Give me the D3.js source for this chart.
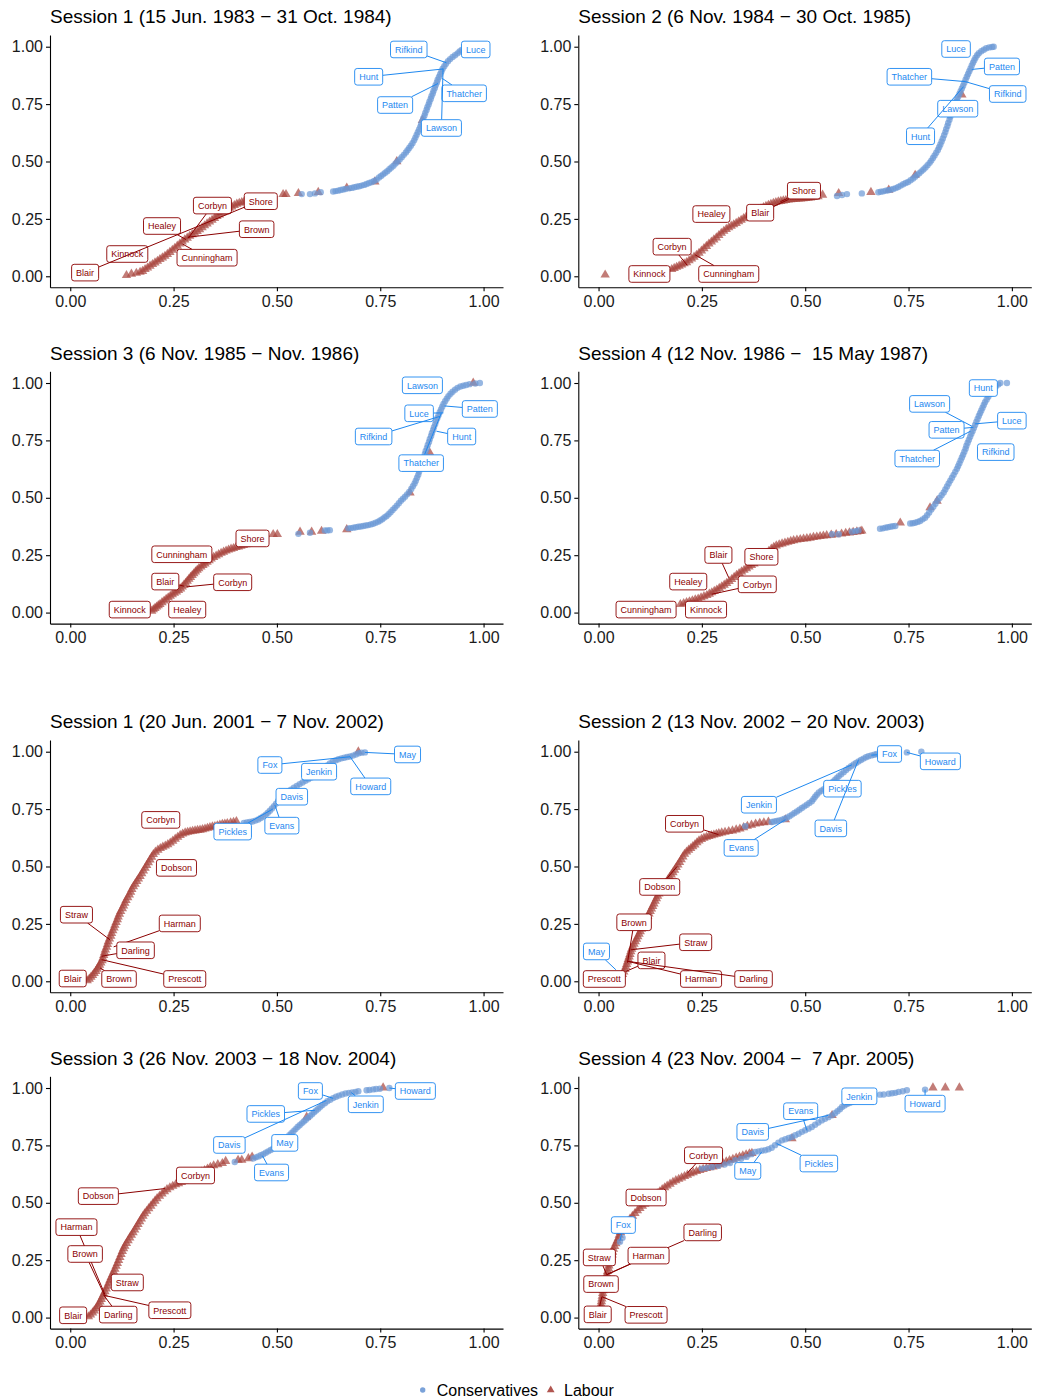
<!DOCTYPE html>
<html lang="en">
<head>
<meta charset="utf-8">
<title>Party ideal points by session</title>
<script src="https://cdn.jsdelivr.net/npm/d3@7"></script>
<style>
  body { margin: 0; background: #fff; }
  svg text { font-family: "Liberation Sans", Arial, Helvetica, sans-serif; }
</style>
</head>
<body>
<svg id="chart" width="1038" height="1399"></svg>
<script>
// ---- data: [x, y] of each plotted MP, per session and party ----
var tickVals = [0, 0.25, 0.5, 0.75, 1];

var titles = [
  "Session 1 (15 Jun. 1983 \u2212 31 Oct. 1984)",
  "Session 2 (6 Nov. 1984 \u2212 30 Oct. 1985)",
  "Session 3 (6 Nov. 1985 \u2212 Nov. 1986)",
  "Session 4 (12 Nov. 1986 \u2212 \u00a015 May 1987)",
  "Session 1 (20 Jun. 2001 \u2212 7 Nov. 2002)",
  "Session 2 (13 Nov. 2002 \u2212 20 Nov. 2003)",
  "Session 3 (26 Nov. 2003 \u2212 18 Nov. 2004)",
  "Session 4 (23 Nov. 2004 \u2212 \u00a07 Apr. 2005)"
];

var lab83s1 = [[0.136,0.004],[0.148,0.010],[0.160,0.014],[0.169,0.018],[0.175,0.022],[0.181,0.030],[0.187,0.037],[0.193,0.045],[0.199,0.052],[0.205,0.059],[0.211,0.066],[0.217,0.074],[0.223,0.081],[0.229,0.088],[0.235,0.096],[0.241,0.105],[0.247,0.114],[0.253,0.123],[0.259,0.132],[0.265,0.141],[0.271,0.150],[0.277,0.159],[0.283,0.167],[0.289,0.175],[0.295,0.182],[0.301,0.188],[0.307,0.196],[0.313,0.204],[0.319,0.212],[0.325,0.221],[0.331,0.229],[0.337,0.237],[0.343,0.245],[0.349,0.253],[0.355,0.261],[0.361,0.268],[0.367,0.276],[0.373,0.283],[0.379,0.290],[0.385,0.297],[0.391,0.303],[0.397,0.309],[0.403,0.315],[0.409,0.319],[0.415,0.322],[0.421,0.326],[0.515,0.357],[0.522,0.357],[0.552,0.361],[0.600,0.366],[0.669,0.385],[0.737,0.412],[0.790,0.500],[0.852,0.680]];
var con83s1 = [[0.560,0.358],[0.580,0.358],[0.592,0.361],[0.606,0.366],[0.636,0.369],[0.642,0.371],[0.648,0.373],[0.654,0.376],[0.660,0.378],[0.666,0.380],[0.675,0.383],[0.681,0.385],[0.687,0.388],[0.693,0.390],[0.699,0.392],[0.705,0.395],[0.711,0.398],[0.717,0.402],[0.723,0.406],[0.729,0.410],[0.735,0.415],[0.741,0.421],[0.747,0.430],[0.752,0.437],[0.757,0.444],[0.762,0.451],[0.767,0.458],[0.772,0.466],[0.777,0.474],[0.782,0.482],[0.787,0.491],[0.792,0.500],[0.797,0.509],[0.802,0.519],[0.807,0.529],[0.812,0.539],[0.816,0.549],[0.820,0.559],[0.824,0.569],[0.828,0.580],[0.832,0.592],[0.835,0.604],[0.838,0.616],[0.841,0.628],[0.844,0.640],[0.847,0.652],[0.849,0.664],[0.852,0.676],[0.854,0.688],[0.857,0.700],[0.859,0.712],[0.862,0.724],[0.864,0.736],[0.867,0.748],[0.869,0.760],[0.872,0.772],[0.874,0.784],[0.877,0.796],[0.879,0.808],[0.882,0.820],[0.884,0.832],[0.887,0.844],[0.889,0.856],[0.892,0.868],[0.895,0.880],[0.898,0.892],[0.901,0.904],[0.905,0.915],[0.909,0.926],[0.914,0.937],[0.919,0.946],[0.925,0.955],[0.931,0.963],[0.937,0.971],[0.942,0.979],[0.947,0.986]];
var names83s1 = [["Rifkind","C",0.910,0.930,0.819,0.988],["Luce","C",0.947,0.986,0.981,0.988],["Hunt","C",0.902,0.903,0.722,0.869],["Thatcher","C",0.900,0.862,0.953,0.797],["Patten","C",0.890,0.840,0.786,0.746],["Lawson","C",0.902,0.905,0.898,0.646],["Corbyn","L",0.285,0.165,0.344,0.308],["Shore","L",0.415,0.322,0.461,0.327],["Healey","L",0.280,0.160,0.222,0.219],["Kinnock","L",0.195,0.060,0.138,0.097],["Brown","L",0.284,0.170,0.451,0.205],["Cunningham","L",0.272,0.140,0.331,0.081],["Blair","L",0.423,0.302,0.036,0.016]];

var lab83s2 = [[0.016,0.006],[0.177,0.030],[0.183,0.035],[0.189,0.040],[0.195,0.045],[0.201,0.050],[0.207,0.055],[0.213,0.060],[0.219,0.068],[0.225,0.076],[0.231,0.084],[0.237,0.092],[0.243,0.101],[0.249,0.111],[0.255,0.121],[0.261,0.131],[0.267,0.141],[0.273,0.150],[0.279,0.159],[0.285,0.168],[0.291,0.178],[0.297,0.188],[0.303,0.197],[0.309,0.205],[0.315,0.212],[0.321,0.219],[0.327,0.225],[0.333,0.231],[0.339,0.238],[0.345,0.245],[0.351,0.252],[0.357,0.259],[0.363,0.266],[0.369,0.272],[0.375,0.278],[0.381,0.284],[0.387,0.290],[0.393,0.295],[0.399,0.300],[0.405,0.305],[0.411,0.310],[0.417,0.314],[0.423,0.318],[0.429,0.322],[0.435,0.325],[0.441,0.327],[0.447,0.329],[0.453,0.331],[0.459,0.333],[0.465,0.334],[0.471,0.335],[0.477,0.336],[0.483,0.337],[0.489,0.338],[0.495,0.339],[0.501,0.340],[0.507,0.341],[0.513,0.342],[0.519,0.344],[0.525,0.345],[0.531,0.347],[0.542,0.354],[0.581,0.361],[0.659,0.366],[0.702,0.376],[0.766,0.441],[0.879,0.790]];
var con83s2 = [[0.577,0.350],[0.589,0.354],[0.601,0.358],[0.637,0.361],[0.677,0.366],[0.683,0.368],[0.689,0.370],[0.695,0.373],[0.701,0.375],[0.707,0.377],[0.713,0.380],[0.719,0.384],[0.725,0.389],[0.731,0.395],[0.737,0.401],[0.743,0.406],[0.749,0.411],[0.755,0.418],[0.761,0.426],[0.766,0.434],[0.771,0.442],[0.776,0.449],[0.781,0.457],[0.786,0.465],[0.791,0.474],[0.796,0.484],[0.801,0.494],[0.805,0.504],[0.809,0.515],[0.813,0.526],[0.817,0.538],[0.821,0.550],[0.824,0.562],[0.827,0.574],[0.830,0.587],[0.833,0.600],[0.836,0.614],[0.839,0.628],[0.841,0.641],[0.844,0.655],[0.846,0.668],[0.849,0.682],[0.851,0.695],[0.854,0.708],[0.856,0.721],[0.859,0.734],[0.861,0.747],[0.864,0.758],[0.867,0.770],[0.870,0.782],[0.873,0.794],[0.876,0.806],[0.879,0.818],[0.882,0.830],[0.885,0.843],[0.888,0.856],[0.891,0.869],[0.894,0.881],[0.897,0.893],[0.900,0.905],[0.903,0.918],[0.906,0.930],[0.909,0.941],[0.912,0.952],[0.916,0.963],[0.920,0.972],[0.926,0.980],[0.932,0.987],[0.938,0.993],[0.945,0.997],[0.952,0.999],[0.956,1.000]];
var names83s2 = [["Luce","C",0.905,0.968,0.865,0.990],["Patten","C",0.903,0.901,0.976,0.914],["Thatcher","C",0.887,0.848,0.752,0.869],["Rifkind","C",0.887,0.848,0.990,0.794],["Lawson","C",0.875,0.780,0.869,0.730],["Hunt","C",0.883,0.826,0.779,0.610],["Shore","L",0.440,0.325,0.497,0.373],["Healey","L",0.325,0.255,0.273,0.271],["Blair","L",0.460,0.335,0.391,0.277],["Corbyn","L",0.214,0.049,0.178,0.129],["Kinnock","L",0.180,0.030,0.123,0.010],["Cunningham","L",0.234,0.093,0.315,0.010]];

var lab83s3 = [[0.197,0.007],[0.201,0.013],[0.205,0.019],[0.209,0.025],[0.213,0.031],[0.217,0.036],[0.222,0.044],[0.227,0.051],[0.232,0.058],[0.237,0.065],[0.242,0.072],[0.247,0.079],[0.252,0.085],[0.257,0.091],[0.262,0.097],[0.267,0.104],[0.271,0.112],[0.275,0.120],[0.279,0.128],[0.283,0.137],[0.287,0.146],[0.291,0.154],[0.295,0.162],[0.299,0.170],[0.303,0.178],[0.307,0.185],[0.311,0.192],[0.316,0.199],[0.321,0.206],[0.326,0.213],[0.331,0.220],[0.336,0.227],[0.341,0.234],[0.347,0.241],[0.353,0.247],[0.359,0.253],[0.365,0.259],[0.371,0.264],[0.377,0.269],[0.383,0.273],[0.389,0.277],[0.395,0.280],[0.401,0.284],[0.407,0.287],[0.413,0.290],[0.419,0.293],[0.425,0.296],[0.431,0.299],[0.437,0.302],[0.443,0.305],[0.491,0.341],[0.501,0.341],[0.556,0.351],[0.584,0.351],[0.608,0.355],[0.669,0.362],[0.822,0.522],[0.870,0.696],[0.975,1.000]];
var con83s3 = [[0.552,0.343],[0.580,0.348],[0.616,0.358],[0.622,0.358],[0.628,0.359],[0.673,0.367],[0.679,0.368],[0.685,0.370],[0.691,0.372],[0.697,0.374],[0.703,0.375],[0.709,0.377],[0.715,0.379],[0.721,0.381],[0.727,0.384],[0.733,0.387],[0.739,0.391],[0.745,0.396],[0.750,0.401],[0.755,0.407],[0.760,0.414],[0.765,0.420],[0.770,0.428],[0.775,0.437],[0.780,0.447],[0.785,0.456],[0.790,0.466],[0.795,0.476],[0.800,0.487],[0.805,0.496],[0.810,0.505],[0.815,0.515],[0.820,0.526],[0.825,0.538],[0.829,0.550],[0.833,0.562],[0.836,0.574],[0.839,0.587],[0.842,0.600],[0.844,0.613],[0.846,0.626],[0.849,0.639],[0.851,0.652],[0.853,0.665],[0.856,0.678],[0.858,0.691],[0.860,0.704],[0.863,0.717],[0.865,0.730],[0.868,0.743],[0.870,0.756],[0.873,0.769],[0.875,0.782],[0.878,0.795],[0.880,0.808],[0.883,0.821],[0.885,0.834],[0.888,0.847],[0.891,0.860],[0.894,0.873],[0.897,0.885],[0.900,0.897],[0.903,0.909],[0.907,0.921],[0.911,0.932],[0.915,0.943],[0.920,0.953],[0.925,0.962],[0.931,0.971],[0.937,0.979],[0.944,0.985],[0.951,0.988],[0.958,0.991],[0.966,0.995],[0.980,0.998],[0.991,1.000]];
var names83s3 = [["Lawson","C",0.905,0.975,0.852,0.990],["Patten","C",0.906,0.900,0.991,0.887],["Luce","C",0.903,0.870,0.844,0.868],["Rifkind","C",0.895,0.855,0.734,0.767],["Hunt","C",0.886,0.790,0.947,0.767],["Thatcher","C",0.898,0.870,0.849,0.651],["Shore","L",0.430,0.300,0.441,0.323],["Cunningham","L",0.350,0.245,0.270,0.254],["Blair","L",0.275,0.115,0.230,0.135],["Corbyn","L",0.281,0.112,0.393,0.132],["Kinnock","L",0.197,0.010,0.144,0.013],["Healey","L",0.240,0.060,0.283,0.013]];

var lab83s4 = [[0.198,0.036],[0.206,0.040],[0.213,0.044],[0.220,0.048],[0.227,0.052],[0.234,0.056],[0.241,0.060],[0.248,0.065],[0.255,0.070],[0.262,0.075],[0.268,0.081],[0.274,0.087],[0.280,0.093],[0.286,0.099],[0.292,0.106],[0.298,0.113],[0.304,0.120],[0.310,0.128],[0.316,0.136],[0.322,0.145],[0.328,0.154],[0.334,0.163],[0.340,0.171],[0.346,0.178],[0.352,0.185],[0.358,0.192],[0.364,0.199],[0.370,0.206],[0.376,0.213],[0.382,0.221],[0.388,0.230],[0.394,0.240],[0.400,0.250],[0.406,0.259],[0.412,0.268],[0.418,0.277],[0.424,0.285],[0.430,0.291],[0.437,0.296],[0.444,0.300],[0.451,0.304],[0.458,0.307],[0.465,0.311],[0.472,0.314],[0.480,0.317],[0.488,0.319],[0.496,0.321],[0.504,0.323],[0.512,0.325],[0.520,0.328],[0.528,0.330],[0.536,0.332],[0.544,0.334],[0.552,0.336],[0.563,0.338],[0.575,0.340],[0.588,0.343],[0.598,0.346],[0.607,0.348],[0.616,0.350],[0.625,0.352],[0.633,0.354],[0.637,0.356],[0.730,0.391],[0.802,0.457],[0.819,0.486]];
var con83s4 = [[0.565,0.341],[0.581,0.341],[0.613,0.352],[0.622,0.355],[0.629,0.358],[0.681,0.365],[0.688,0.367],[0.694,0.370],[0.700,0.372],[0.706,0.374],[0.712,0.376],[0.718,0.377],[0.754,0.388],[0.760,0.389],[0.766,0.391],[0.772,0.395],[0.778,0.399],[0.784,0.406],[0.790,0.413],[0.795,0.424],[0.800,0.436],[0.805,0.449],[0.810,0.461],[0.815,0.474],[0.820,0.487],[0.825,0.499],[0.830,0.511],[0.835,0.523],[0.839,0.536],[0.843,0.549],[0.847,0.562],[0.851,0.575],[0.855,0.587],[0.859,0.600],[0.863,0.613],[0.867,0.626],[0.870,0.638],[0.873,0.650],[0.876,0.663],[0.879,0.676],[0.882,0.688],[0.885,0.701],[0.888,0.714],[0.890,0.727],[0.893,0.740],[0.896,0.753],[0.899,0.766],[0.902,0.779],[0.905,0.791],[0.908,0.804],[0.911,0.817],[0.914,0.830],[0.917,0.843],[0.920,0.856],[0.923,0.868],[0.926,0.880],[0.929,0.892],[0.932,0.904],[0.935,0.916],[0.939,0.928],[0.943,0.940],[0.947,0.952],[0.951,0.963],[0.956,0.975],[0.961,0.985],[0.967,0.994],[0.972,1.000],[0.988,1.000]];
var names83s4 = [["Hunt","C",0.930,0.935,0.931,0.978],["Lawson","C",0.903,0.812,0.801,0.909],["Luce","C",0.911,0.822,1.000,0.836],["Patten","C",0.907,0.807,0.842,0.796],["Thatcher","C",0.900,0.790,0.771,0.671],["Rifkind","C",0.912,0.705,0.961,0.699],["Blair","L",0.315,0.152,0.290,0.251],["Shore","L",0.380,0.220,0.394,0.243],["Healey","L",0.250,0.110,0.217,0.135],["Corbyn","L",0.274,0.080,0.384,0.123],["Cunningham","L",0.198,0.036,0.115,0.013],["Kinnock","L",0.240,0.050,0.260,0.013]];

var lab01s1 = [[0.041,0.003],[0.046,0.010],[0.050,0.018],[0.054,0.026],[0.058,0.035],[0.062,0.044],[0.065,0.053],[0.068,0.062],[0.071,0.071],[0.074,0.080],[0.077,0.090],[0.079,0.101],[0.081,0.113],[0.083,0.125],[0.085,0.137],[0.088,0.149],[0.090,0.161],[0.092,0.173],[0.095,0.185],[0.098,0.197],[0.100,0.209],[0.103,0.221],[0.106,0.233],[0.108,0.245],[0.111,0.257],[0.114,0.269],[0.116,0.281],[0.119,0.293],[0.122,0.305],[0.126,0.317],[0.129,0.329],[0.132,0.341],[0.135,0.353],[0.139,0.365],[0.143,0.377],[0.146,0.389],[0.149,0.401],[0.153,0.413],[0.157,0.424],[0.161,0.435],[0.165,0.446],[0.169,0.457],[0.173,0.469],[0.177,0.481],[0.181,0.493],[0.185,0.505],[0.189,0.517],[0.193,0.529],[0.197,0.541],[0.201,0.553],[0.206,0.563],[0.212,0.572],[0.218,0.579],[0.224,0.585],[0.230,0.590],[0.236,0.596],[0.242,0.603],[0.248,0.611],[0.254,0.620],[0.260,0.628],[0.266,0.636],[0.272,0.642],[0.278,0.647],[0.284,0.650],[0.290,0.652],[0.296,0.654],[0.302,0.656],[0.308,0.658],[0.314,0.659],[0.320,0.661],[0.326,0.664],[0.332,0.667],[0.338,0.670],[0.344,0.673],[0.350,0.675],[0.356,0.678],[0.362,0.681],[0.368,0.684],[0.374,0.686],[0.380,0.688],[0.388,0.691],[0.395,0.693],[0.402,0.696],[0.697,1.000]];
var con01s1 = [[0.420,0.690],[0.427,0.692],[0.434,0.694],[0.441,0.696],[0.448,0.700],[0.455,0.705],[0.461,0.711],[0.467,0.718],[0.473,0.726],[0.478,0.734],[0.483,0.743],[0.488,0.753],[0.493,0.763],[0.498,0.774],[0.503,0.786],[0.508,0.798],[0.514,0.808],[0.520,0.818],[0.527,0.827],[0.534,0.835],[0.541,0.843],[0.548,0.851],[0.555,0.859],[0.562,0.866],[0.569,0.873],[0.576,0.880],[0.583,0.888],[0.590,0.896],[0.597,0.905],[0.604,0.913],[0.610,0.922],[0.616,0.931],[0.622,0.940],[0.628,0.949],[0.635,0.956],[0.642,0.962],[0.649,0.967],[0.656,0.971],[0.663,0.974],[0.670,0.977],[0.677,0.979],[0.684,0.983],[0.691,0.988],[0.698,0.993],[0.705,0.996],[0.713,0.997]];
var names01s1 = [["May","C",0.713,0.997,0.816,0.988],["Fox","C",0.677,0.978,0.483,0.942],["Jenkin","C",0.644,0.957,0.602,0.913],["Howard","C",0.677,0.978,0.727,0.849],["Davis","C",0.500,0.780,0.536,0.804],["Evans","C",0.495,0.768,0.512,0.678],["Pickles","C",0.490,0.750,0.393,0.652],["Corbyn","L",0.240,0.660,0.219,0.703],["Dobson","L",0.210,0.530,0.257,0.494],["Straw","L",0.096,0.181,0.015,0.290],["Harman","L",0.105,0.150,0.265,0.252],["Darling","L",0.076,0.109,0.158,0.135],["Blair","L",0.042,0.005,0.006,0.012],["Brown","L",0.072,0.058,0.118,0.010],["Prescott","L",0.076,0.094,0.277,0.010]];

var lab01s2 = [[0.058,0.030],[0.061,0.041],[0.064,0.052],[0.066,0.063],[0.068,0.074],[0.070,0.085],[0.072,0.096],[0.074,0.107],[0.076,0.118],[0.078,0.129],[0.080,0.140],[0.083,0.151],[0.086,0.162],[0.089,0.173],[0.092,0.184],[0.095,0.195],[0.098,0.206],[0.101,0.217],[0.104,0.228],[0.107,0.239],[0.110,0.250],[0.113,0.261],[0.116,0.272],[0.119,0.283],[0.122,0.294],[0.125,0.305],[0.128,0.316],[0.131,0.327],[0.134,0.338],[0.137,0.349],[0.140,0.360],[0.143,0.371],[0.146,0.381],[0.149,0.391],[0.152,0.401],[0.156,0.411],[0.160,0.422],[0.164,0.432],[0.168,0.443],[0.172,0.454],[0.176,0.464],[0.180,0.474],[0.184,0.485],[0.188,0.496],[0.192,0.507],[0.196,0.518],[0.200,0.530],[0.204,0.542],[0.208,0.554],[0.213,0.564],[0.218,0.572],[0.223,0.579],[0.228,0.587],[0.233,0.595],[0.238,0.604],[0.243,0.612],[0.249,0.619],[0.255,0.624],[0.261,0.628],[0.267,0.632],[0.273,0.635],[0.279,0.638],[0.285,0.641],[0.291,0.644],[0.298,0.647],[0.306,0.650],[0.315,0.653],[0.324,0.656],[0.333,0.660],[0.342,0.664],[0.351,0.670],[0.360,0.676],[0.370,0.681],[0.380,0.686],[0.390,0.689],[0.400,0.691],[0.411,0.694],[0.452,0.704]];
var con01s2 = [[0.355,0.675],[0.419,0.694],[0.425,0.696],[0.431,0.698],[0.437,0.701],[0.444,0.704],[0.450,0.708],[0.456,0.713],[0.462,0.719],[0.468,0.726],[0.474,0.733],[0.480,0.740],[0.486,0.747],[0.492,0.755],[0.498,0.762],[0.504,0.769],[0.510,0.777],[0.516,0.784],[0.520,0.794],[0.524,0.804],[0.528,0.813],[0.533,0.822],[0.539,0.830],[0.545,0.837],[0.551,0.844],[0.556,0.851],[0.561,0.859],[0.566,0.867],[0.571,0.876],[0.576,0.885],[0.581,0.893],[0.587,0.902],[0.593,0.911],[0.599,0.920],[0.605,0.929],[0.611,0.937],[0.617,0.944],[0.623,0.951],[0.629,0.958],[0.635,0.964],[0.641,0.970],[0.647,0.976],[0.653,0.980],[0.660,0.984],[0.667,0.987],[0.673,0.990],[0.746,0.997],[0.781,1.000]];
var names01s2 = [["Fox","C",0.660,0.985,0.704,0.990],["Howard","C",0.746,0.997,0.827,0.958],["Pickles","C",0.575,0.880,0.590,0.839],["Jenkin","C",0.613,0.943,0.388,0.769],["Davis","C",0.629,0.965,0.562,0.666],["Evans","C",0.452,0.704,0.345,0.581],["May","C",0.042,0.050,-0.005,0.130],["Corbyn","L",0.290,0.639,0.208,0.686],["Dobson","L",0.190,0.500,0.148,0.411],["Brown","L",0.070,0.081,0.086,0.257],["Straw","L",0.078,0.137,0.235,0.170],["Blair","L",0.066,0.043,0.128,0.091],["Harman","L",0.070,0.087,0.248,0.010],["Darling","L",0.070,0.087,0.375,0.010],["Prescott","L",0.060,0.030,0.014,0.010]];

var lab01s3 = [[0.044,0.004],[0.049,0.012],[0.054,0.021],[0.058,0.030],[0.062,0.039],[0.066,0.049],[0.069,0.059],[0.072,0.069],[0.075,0.080],[0.078,0.091],[0.081,0.102],[0.084,0.113],[0.087,0.125],[0.090,0.137],[0.093,0.150],[0.096,0.163],[0.099,0.175],[0.102,0.187],[0.105,0.199],[0.108,0.211],[0.111,0.224],[0.114,0.237],[0.117,0.250],[0.120,0.263],[0.123,0.276],[0.126,0.289],[0.129,0.301],[0.132,0.312],[0.136,0.324],[0.140,0.336],[0.144,0.348],[0.148,0.359],[0.152,0.370],[0.156,0.382],[0.160,0.394],[0.164,0.406],[0.168,0.418],[0.172,0.430],[0.176,0.442],[0.180,0.453],[0.185,0.464],[0.190,0.475],[0.195,0.486],[0.200,0.497],[0.205,0.508],[0.210,0.519],[0.216,0.529],[0.222,0.539],[0.228,0.549],[0.234,0.558],[0.241,0.566],[0.248,0.573],[0.255,0.579],[0.262,0.584],[0.269,0.589],[0.276,0.595],[0.283,0.601],[0.290,0.607],[0.297,0.613],[0.304,0.620],[0.311,0.627],[0.318,0.634],[0.325,0.641],[0.332,0.648],[0.339,0.655],[0.347,0.662],[0.357,0.667],[0.368,0.672],[0.376,0.681],[0.406,0.686],[0.415,0.686],[0.431,0.693],[0.440,0.700],[0.572,0.874],[0.757,1.001]];
var con01s3 = [[0.398,0.678],[0.443,0.693],[0.449,0.698],[0.455,0.702],[0.461,0.707],[0.467,0.712],[0.473,0.718],[0.479,0.724],[0.485,0.730],[0.491,0.736],[0.497,0.742],[0.503,0.750],[0.509,0.758],[0.515,0.767],[0.520,0.776],[0.525,0.785],[0.530,0.794],[0.535,0.803],[0.540,0.812],[0.545,0.821],[0.550,0.830],[0.555,0.838],[0.560,0.846],[0.565,0.854],[0.570,0.862],[0.575,0.870],[0.580,0.878],[0.585,0.886],[0.590,0.894],[0.595,0.902],[0.600,0.910],[0.605,0.918],[0.610,0.926],[0.616,0.934],[0.622,0.942],[0.629,0.949],[0.636,0.956],[0.643,0.962],[0.650,0.967],[0.658,0.972],[0.666,0.976],[0.674,0.979],[0.682,0.981],[0.690,0.983],[0.697,0.986],[0.717,0.990],[0.724,0.991],[0.733,0.994],[0.740,0.996],[0.749,0.997],[0.772,1.000]];
var names01s3 = [["Fox","C",0.636,0.955,0.581,0.987],["Howard","C",0.772,1.000,0.835,0.987],["Jenkin","C",0.680,0.980,0.715,0.929],["Pickles","C",0.592,0.903,0.473,0.887],["Davis","C",0.620,0.946,0.385,0.752],["May","C",0.510,0.770,0.519,0.761],["Evans","C",0.465,0.705,0.487,0.632],["Corbyn","L",0.270,0.595,0.303,0.619],["Dobson","L",0.229,0.562,0.068,0.529],["Harman","L",0.084,0.100,0.015,0.394],["Brown","L",0.084,0.093,0.036,0.277],["Straw","L",0.100,0.170,0.138,0.153],["Blair","L",0.045,0.004,0.007,0.010],["Darling","L",0.080,0.100,0.116,0.013],["Prescott","L",0.084,0.096,0.241,0.032]];

var lab01s4 = [[0.002,0.010],[0.003,0.022],[0.004,0.034],[0.005,0.046],[0.006,0.058],[0.007,0.070],[0.008,0.082],[0.009,0.094],[0.010,0.106],[0.011,0.118],[0.012,0.130],[0.014,0.142],[0.015,0.154],[0.017,0.166],[0.018,0.178],[0.020,0.190],[0.022,0.202],[0.024,0.214],[0.025,0.226],[0.027,0.238],[0.029,0.250],[0.031,0.262],[0.033,0.274],[0.034,0.286],[0.036,0.298],[0.039,0.310],[0.042,0.322],[0.045,0.334],[0.048,0.346],[0.050,0.359],[0.053,0.371],[0.056,0.383],[0.060,0.395],[0.065,0.407],[0.070,0.418],[0.076,0.430],[0.082,0.442],[0.088,0.454],[0.094,0.466],[0.100,0.476],[0.106,0.486],[0.112,0.495],[0.118,0.504],[0.124,0.513],[0.130,0.522],[0.136,0.531],[0.142,0.540],[0.148,0.549],[0.154,0.558],[0.160,0.566],[0.166,0.574],[0.173,0.582],[0.180,0.590],[0.187,0.597],[0.194,0.603],[0.201,0.609],[0.208,0.615],[0.215,0.621],[0.222,0.627],[0.229,0.632],[0.237,0.637],[0.245,0.642],[0.253,0.646],[0.261,0.650],[0.269,0.653],[0.277,0.657],[0.285,0.661],[0.293,0.667],[0.301,0.673],[0.309,0.679],[0.317,0.685],[0.325,0.690],[0.333,0.695],[0.341,0.700],[0.349,0.705],[0.357,0.710],[0.365,0.714],[0.371,0.716],[0.468,0.780],[0.565,0.881],[0.809,1.001],[0.839,1.001],[0.873,1.001]];
var con01s4 = [[0.052,0.330],[0.058,0.348],[0.250,0.649],[0.262,0.652],[0.275,0.656],[0.290,0.661],[0.305,0.667],[0.318,0.673],[0.331,0.686],[0.345,0.692],[0.358,0.700],[0.370,0.712],[0.379,0.722],[0.387,0.724],[0.395,0.727],[0.403,0.729],[0.411,0.733],[0.419,0.740],[0.427,0.751],[0.435,0.762],[0.444,0.772],[0.452,0.777],[0.460,0.782],[0.468,0.787],[0.476,0.794],[0.484,0.801],[0.492,0.809],[0.500,0.816],[0.508,0.823],[0.516,0.830],[0.524,0.840],[0.532,0.850],[0.540,0.859],[0.548,0.866],[0.556,0.873],[0.565,0.881],[0.572,0.890],[0.578,0.899],[0.584,0.908],[0.589,0.917],[0.595,0.924],[0.601,0.930],[0.607,0.935],[0.613,0.939],[0.621,0.943],[0.629,0.947],[0.637,0.951],[0.645,0.954],[0.681,0.971],[0.690,0.972],[0.702,0.975],[0.710,0.977],[0.718,0.979],[0.726,0.983],[0.736,0.986],[0.746,0.990],[0.790,0.993]];
var names01s4 = [["Jenkin","C",0.660,0.960,0.631,0.964],["Howard","C",0.790,0.993,0.790,0.932],["Evans","C",0.504,0.816,0.489,0.899],["Davis","C",0.556,0.881,0.373,0.809],["Pickles","C",0.431,0.758,0.533,0.671],["May","C",0.395,0.722,0.361,0.639],["Fox","C",0.052,0.335,0.060,0.403],["Corbyn","L",0.214,0.628,0.254,0.707],["Dobson","L",0.150,0.550,0.115,0.523],["Darling","L",0.022,0.190,0.252,0.371],["Straw","L",0.020,0.186,0.002,0.262],["Harman","L",0.020,0.186,0.121,0.270],["Brown","L",0.012,0.130,0.006,0.146],["Blair","L",0.008,0.090,-0.002,0.014],["Prescott","L",0.008,0.091,0.115,0.012]];

var partyNames = ["Conservatives", "Labour"];

// ---- layout ----
var W = 453, H = 252.3;
var colX = [50, 578.3];
var rowY = [35, 371.3, 740, 1076.3];
var conFill = "#6b98d5", labFill = "#a8443d";
var conText = "#1e88f0", labText = "#8b0000";

var panels = [
  {title: titles[0], con: con83s1, lab: lab83s1, names: names83s1, col: 0, row: 0},
  {title: titles[1], con: con83s2, lab: lab83s2, names: names83s2, col: 1, row: 0},
  {title: titles[2], con: con83s3, lab: lab83s3, names: names83s3, col: 0, row: 1},
  {title: titles[3], con: con83s4, lab: lab83s4, names: names83s4, col: 1, row: 1},
  {title: titles[4], con: con01s1, lab: lab01s1, names: names01s1, col: 0, row: 2},
  {title: titles[5], con: con01s2, lab: lab01s2, names: names01s2, col: 1, row: 2},
  {title: titles[6], con: con01s3, lab: lab01s3, names: names01s3, col: 0, row: 3},
  {title: titles[7], con: con01s4, lab: lab01s4, names: names01s4, col: 1, row: 3}
];

var xScale = d3.scaleLinear().domain([-0.049, 1.047]).range([0, W]);
var yScale = d3.scaleLinear().domain([-0.048, 1.051]).range([H, 0]);
var fmt = d3.format(".2f");
var triangle = d3.symbol().type(d3.symbolTriangle).size(38);

var svg = d3.select("#chart");

panels.forEach(function(p) {
  var g = svg.append("g")
      .attr("transform", "translate(" + colX[p.col] + "," + rowY[p.row] + ")");

  g.append("text")
      .attr("x", 0)
      .attr("y", -11.7)
      .attr("font-size", 19)
      .attr("fill", "#000")
      .text(p.title);

  var xAxis = d3.axisBottom(xScale).tickValues(tickVals).tickFormat(fmt)
      .tickSize(4).tickSizeOuter(0).tickPadding(4);
  var yAxis = d3.axisLeft(yScale).tickValues(tickVals).tickFormat(fmt)
      .tickSize(4).tickSizeOuter(0).tickPadding(3);

  g.append("g").attr("class", "axis")
      .attr("transform", "translate(0," + H + ")")
      .call(xAxis);
  g.append("g").attr("class", "axis")
      .call(yAxis);

  g.selectAll(".axis")
      .attr("font-size", 16)
      .attr("font-family", null);
  g.selectAll(".axis text").attr("fill", "#1a1a1a");
  g.selectAll(".axis path, .axis line").attr("stroke", "#000").attr("stroke-width", 1.1);

  // points: Labour first so stray triangles sit under the blue band
  g.append("g").selectAll("path")
      .data(p.lab)
      .enter()
      .append("path")
      .attr("d", triangle)
      .attr("transform", function(d) { return "translate(" + xScale(d[0]) + "," + yScale(d[1]) + ")"; })
      .attr("fill", labFill)
      .attr("fill-opacity", 0.7);

  g.append("g").selectAll("circle")
      .data(p.con)
      .enter()
      .append("circle")
      .attr("cx", function(d) { return xScale(d[0]); })
      .attr("cy", function(d) { return yScale(d[1]); })
      .attr("r", 3.2)
      .attr("fill", conFill)
      .attr("fill-opacity", 0.7);

  // repelled name labels: segment + box, one after another
  var lg = g.append("g");
  p.names.forEach(function(n) {
    var col = n[1] === "C" ? conText : labText;
    var cx = xScale(n[4]), cy = yScale(n[5]);
    var tx = xScale(n[2]), ty = yScale(n[3]);
    var item = lg.append("g");
    var seg = item.append("line");
    var box = item.append("rect");
    var txt = item.append("text")
        .attr("x", cx)
        .attr("y", cy + 3.3)
        .attr("text-anchor", "middle")
        .attr("font-size", 9)
        .attr("fill", col)
        .text(n[0]);
    var tw = txt.node().getComputedTextLength();
    var hw = tw / 2 + 4.5, hh = 8.3;
    box.attr("x", cx - hw).attr("y", cy - hh)
        .attr("width", hw * 2).attr("height", hh * 2)
        .attr("rx", 2.5)
        .attr("fill", "#fff")
        .attr("stroke", col)
        .attr("stroke-width", 0.9);
    var dx = tx - cx, dy = ty - cy;
    var t = Math.min(dx === 0 ? Infinity : hw / Math.abs(dx), dy === 0 ? Infinity : hh / Math.abs(dy));
    if (t < 1) {
      var sx = cx + dx * t, sy = cy + dy * t;
      if (Math.hypot(tx - sx, ty - sy) > 5) {
        seg.attr("x1", sx).attr("y1", sy).attr("x2", tx).attr("y2", ty)
            .attr("stroke", col).attr("stroke-width", 1);
      } else {
        seg.remove();
      }
    } else {
      seg.remove();
    }
  });
});

// legend
var leg = svg.append("g").attr("transform", "translate(0,1390)");
leg.append("circle").attr("cx", 422.7).attr("cy", 0).attr("r", 2.7)
    .attr("fill", conFill).attr("fill-opacity", 0.9);
leg.append("text").attr("x", 436.7).attr("y", 5.6).attr("font-size", 16).attr("fill", "#000")
    .text(partyNames[0]);
leg.append("path").attr("d", d3.symbol().type(d3.symbolTriangle).size(26)).attr("transform", "translate(550.7,0)")
    .attr("fill", labFill).attr("fill-opacity", 0.9);
leg.append("text").attr("x", 564).attr("y", 5.6).attr("font-size", 16).attr("fill", "#000")
    .text(partyNames[1]);
</script>
</body>
</html>
